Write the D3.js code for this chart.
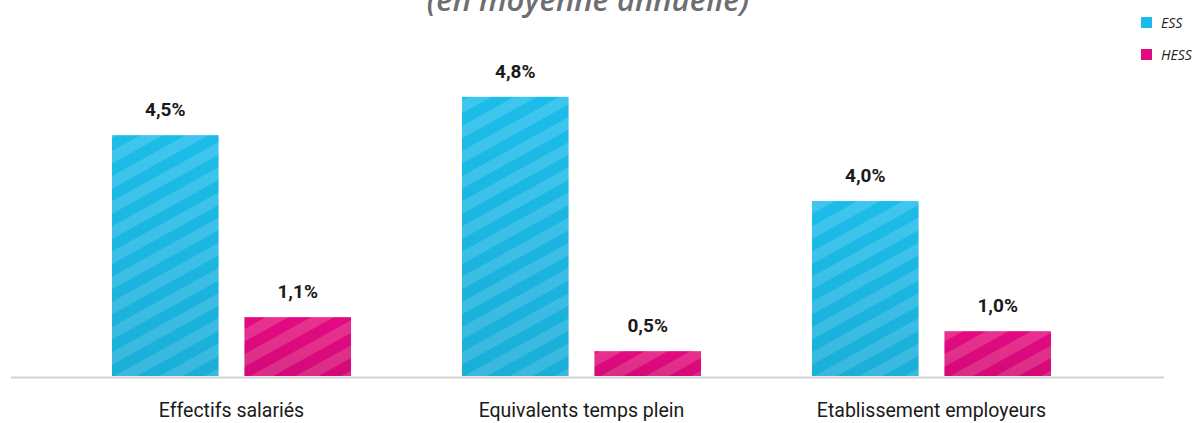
<!DOCTYPE html>
<html>
<head>
<meta charset="utf-8">
<script src="https://cdn.jsdelivr.net/npm/d3@7"></script>
<style>
  body { margin: 0; background: #fff; }
  svg { display: block; }
</style>
</head>
<body>
<div id="chart"></div>
<script>
"use strict";

// categories and series
var categories = ["Effectifs salariés", "Equivalents temps plein", "Etablissement employeurs"];
var seriesNames = ["ESS", "HESS"];
// bar heights
var essValues = [4.46, 5.17, 3.24];
var hessValues = [1.09, 0.46, 0.83];
// printed labels
var essLabels = ["4,5%", "4,8%", "4,0%"];
var hessLabels = ["1,1%", "0,5%", "1,0%"];
var title = "(en moyenne annuelle)";

var width = 1196, height = 423;
var baseY = 376;

var svg = d3.select("#chart").append("svg")
  .attr("width", width)
  .attr("height", height);

var defs = svg.append("defs");

var colors = {
  ESS: { base: "#1cbce9", stripe: "#3ec6ee" },
  HESS: { base: "#e30a82", stripe: "#e9318f" }
};

seriesNames.forEach(function(s) {
  var p = defs.append("pattern")
    .attr("id", "stripe-" + s)
    .attr("patternUnits", "userSpaceOnUse")
    .attr("width", 22)
    .attr("height", 22)
    .attr("patternTransform", "rotate(-29)");
  p.append("rect").attr("width", 22).attr("height", 22).attr("fill", colors[s].base);
  p.append("rect").attr("width", 22).attr("height", 11).attr("fill", colors[s].stripe);
});

var shade = defs.append("linearGradient")
  .attr("id", "shade")
  .attr("x1", 0).attr("y1", 0).attr("x2", 0).attr("y2", 1);
shade.append("stop").attr("offset", "0%").attr("stop-color", "#000").attr("stop-opacity", 0);
shade.append("stop").attr("offset", "100%").attr("stop-color", "#000").attr("stop-opacity", 0.07);

var x0 = d3.scaleBand()
  .domain(categories)
  .range([56.5, 1106.5])
  .paddingInner(0.317)
  .paddingOuter(0.1585);

var x1 = d3.scaleBand()
  .domain(seriesNames)
  .range([0, x0.bandwidth()])
  .paddingInner(0.195);

var y = d3.scaleLinear()
  .domain([0, 5.5])
  .range([baseY, baseY - 5.5 * 54]);

var rows = categories.map(function(c, i) {
  return {
    cat: c,
    bars: [
      { s: "ESS", v: essValues[i], label: essLabels[i] },
      { s: "HESS", v: hessValues[i], label: hessLabels[i] }
    ]
  };
});

// title (clipped at top like the original)
svg.append("text")
  .attr("x", 588)
  .attr("y", 11)
  .attr("text-anchor", "middle")
  .attr("font-family", "'Open Sans', sans-serif")
  .attr("font-style", "italic")
  .attr("font-weight", 600)
  .attr("font-size", "31px")
  .attr("fill", "#6d6e71")
  .text(title);

// baseline
svg.append("line")
  .attr("x1", 11).attr("x2", 1164)
  .attr("y1", baseY + 1.5).attr("y2", baseY + 1.5)
  .attr("stroke", "#d2d2d2")
  .attr("stroke-width", 2);

var groups = svg.selectAll("g.group")
  .data(rows)
  .enter()
  .append("g")
  .attr("class", "group")
  .attr("transform", function(d) { return "translate(" + x0(d.cat) + ",0)"; });

groups.selectAll("rect.bar")
  .data(function(d) { return d.bars; })
  .enter()
  .append("rect")
  .attr("class", "bar")
  .attr("x", function(d) { return x1(d.s); })
  .attr("y", function(d) { return y(d.v); })
  .attr("width", x1.bandwidth())
  .attr("height", function(d) { return baseY - y(d.v); })
  .attr("fill", function(d) { return "url(#stripe-" + d.s + ")"; });

groups.selectAll("rect.shade")
  .data(function(d) { return d.bars; })
  .enter()
  .append("rect")
  .attr("class", "shade")
  .attr("x", function(d) { return x1(d.s); })
  .attr("y", function(d) { return y(d.v); })
  .attr("width", x1.bandwidth())
  .attr("height", function(d) { return baseY - y(d.v); })
  .attr("fill", "url(#shade)");

groups.selectAll("text.val")
  .data(function(d) { return d.bars; })
  .enter()
  .append("text")
  .attr("class", "val")
  .attr("x", function(d) { return x1(d.s) + x1.bandwidth() / 2; })
  .attr("y", function(d) { return y(d.v) - 19; })
  .attr("text-anchor", "middle")
  .attr("font-family", "Roboto, sans-serif")
  .attr("font-weight", 700)
  .attr("font-size", "19px")
  .attr("fill", "#1a1a1a")
  .text(function(d) { return d.label; });

// category labels
svg.selectAll("text.cat")
  .data(categories)
  .enter()
  .append("text")
  .attr("class", "cat")
  .attr("x", function(d) { return x0(d) + x0.bandwidth() / 2; })
  .attr("y", 417)
  .attr("text-anchor", "middle")
  .attr("font-family", "Roboto, sans-serif")
  .attr("font-size", "19.5px")
  .attr("fill", "#1a1a1a")
  .text(function(d) { return d; });

// legend
var legend = svg.selectAll("g.legend")
  .data(seriesNames)
  .enter()
  .append("g")
  .attr("class", "legend")
  .attr("transform", function(d, i) { return "translate(1141," + (17 + i * 32) + ")"; });

legend.append("rect")
  .attr("width", 11)
  .attr("height", 11)
  .attr("fill", function(d) { return colors[d].base; });

legend.append("text")
  .attr("x", 20)
  .attr("y", 11)
  .attr("font-family", "'Open Sans', sans-serif")
  .attr("font-style", "italic")
  .attr("font-size", "14px")
  .attr("fill", "#222")
  .text(function(d) { return d; });
</script>
</body>
</html>
